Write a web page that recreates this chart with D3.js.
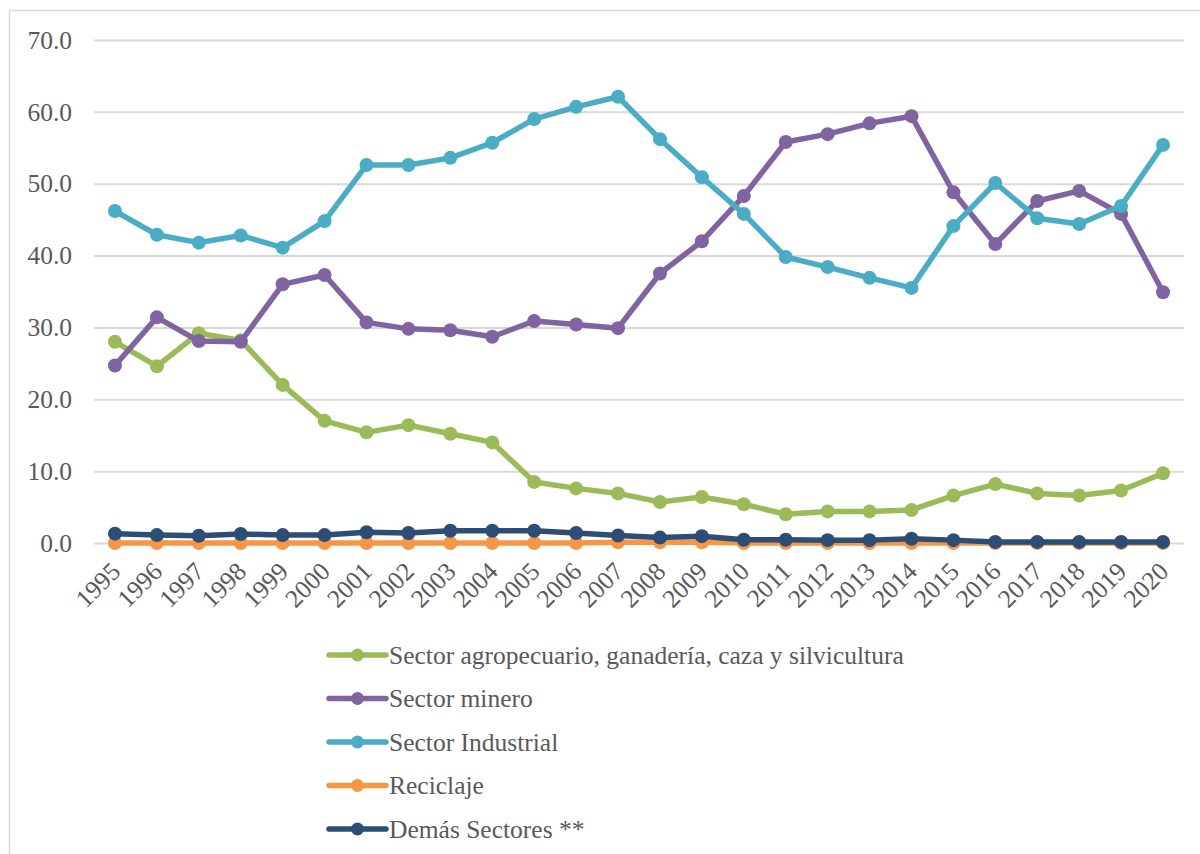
<!DOCTYPE html>
<html>
<head>
<meta charset="utf-8">
<script src="https://cdn.jsdelivr.net/npm/d3@7"></script>
<style>
  html, body { margin: 0; padding: 0; background: #fff; }
  svg { display: block; }
  text { font-family: "Liberation Serif", "DejaVu Serif", serif; fill: #595959; }
</style>
</head>
<body>
<svg id="chart" width="1200" height="854"></svg>
<script>
const years = ["1995","1996","1997","1998","1999","2000","2001","2002","2003","2004","2005","2006","2007","2008","2009","2010","2011","2012","2013","2014","2015","2016","2017","2018","2019","2020"];

const agro = [28.0,24.6,29.2,28.2,22.0,17.0,15.4,16.4,15.2,14.0,8.5,7.6,6.9,5.7,6.4,5.4,4.0,4.4,4.4,4.6,6.6,8.2,6.9,6.6,7.3,9.7];
const minero = [24.7,31.4,28.1,28.0,36.0,37.3,30.7,29.8,29.6,28.7,30.9,30.4,29.9,37.5,42.0,48.3,55.8,56.9,58.4,59.4,48.8,41.6,47.6,49.0,45.8,34.9];
const industrial = [46.2,42.9,41.8,42.8,41.1,44.8,52.6,52.6,53.6,55.7,59.0,60.7,62.1,56.2,50.9,45.8,39.8,38.4,36.9,35.5,44.1,50.1,45.2,44.4,46.9,55.4];
const reciclaje = [0.0,0.0,0.0,0.0,0.0,0.0,0.0,0.0,0.0,0.0,0.0,0.0,0.1,0.1,0.1,0.0,0.0,0.0,0.0,0.0,0.0,0.0,0.0,0.0,0.0,0.0];
const demas = [1.3,1.1,1.0,1.25,1.1,1.1,1.5,1.4,1.7,1.7,1.7,1.4,1.05,0.75,0.95,0.45,0.45,0.4,0.4,0.6,0.4,0.15,0.15,0.15,0.15,0.15];

const seriesNames = ["Sector agropecuario, ganadería, caza y silvicultura","Sector minero","Sector Industrial","Reciclaje","Demás Sectores **"];
const seriesColors = ["#9BBB59","#8064A2","#4BACC6","#F79646","#2C4D75"];
const seriesValues = [agro, minero, industrial, reciclaje, demas];
const yTicks = [0,10,20,30,40,50,60,70];

const series = seriesNames.map((name,i)=>({name, color: seriesColors[i], values: seriesValues[i]}));

const svg = d3.select("#chart");

// outer frame
svg.append("rect").attr("x",9.5).attr("y",10.5).attr("width",1250).attr("height",900)
  .attr("fill","#fff").attr("stroke","#d9d9d9").attr("stroke-width",1.5);

const pLeft = 94, pRight = 1184, pTop = 40, pBottom = 543;
const x = d3.scaleBand().domain(years).range([pLeft, pRight]);
const cx = d => x(d) + x.bandwidth()/2;
const y = d3.scaleLinear().domain([0,70]).range([pBottom, pTop]);

// y axis grid + labels
const yAxis = svg.append("g").attr("transform",`translate(${pLeft},0)`)
  .call(d3.axisLeft(y).tickValues(yTicks).tickFormat(d3.format(".1f")).tickSize(-(pRight-pLeft)).tickPadding(22));
yAxis.select(".domain").remove();
yAxis.selectAll(".tick line").attr("stroke","#d9d9d9").attr("stroke-width",2);
yAxis.selectAll(".tick text").attr("font-size","25.5px").attr("fill","#595959")
  .style("font-family",'"Liberation Serif", serif');

// x axis labels
const xAxis = svg.append("g").attr("transform",`translate(0,${pBottom})`)
  .call(d3.axisBottom(x).tickSize(0).tickPadding(0));
xAxis.select(".domain").remove();
xAxis.selectAll(".tick text")
  .attr("font-size","25.5px").attr("fill","#595959")
  .style("font-family",'"Liberation Serif", serif')
  .attr("text-anchor","end")
  .attr("x",0).attr("y",0).attr("dy","0")
  .attr("transform","translate(7,30) rotate(-45)");

// lines
const line = d3.line().x((d,i)=>cx(years[i])).y(d=>y(d));
series.forEach(s=>{
  const g = svg.append("g");
  g.append("path").datum(s.values).attr("d",line)
    .attr("fill","none").attr("stroke",s.color).attr("stroke-width",5.5)
    .attr("stroke-linejoin","round").attr("stroke-linecap","round");
  g.selectAll("circle").data(s.values).join("circle")
    .attr("cx",(d,i)=>cx(years[i])).attr("cy",d=>y(d)).attr("r",7)
    .attr("fill",s.color);
});

// legend
const legend = svg.append("g");
series.forEach((s,i)=>{
  const ly = 655 + i*43.5;
  const g = legend.append("g").attr("transform",`translate(0,${ly})`);
  g.append("line").attr("x1",329).attr("x2",386).attr("y1",0).attr("y2",0)
    .attr("stroke",s.color).attr("stroke-width",5.5).attr("stroke-linecap","round");
  g.append("circle").attr("cx",357.5).attr("cy",0).attr("r",6.5).attr("fill",s.color);
  g.append("text").attr("x",389).attr("y",0).attr("dy","0.35em")
    .attr("font-size","25.5px").text(s.name);
});
</script>
</body>
</html>
